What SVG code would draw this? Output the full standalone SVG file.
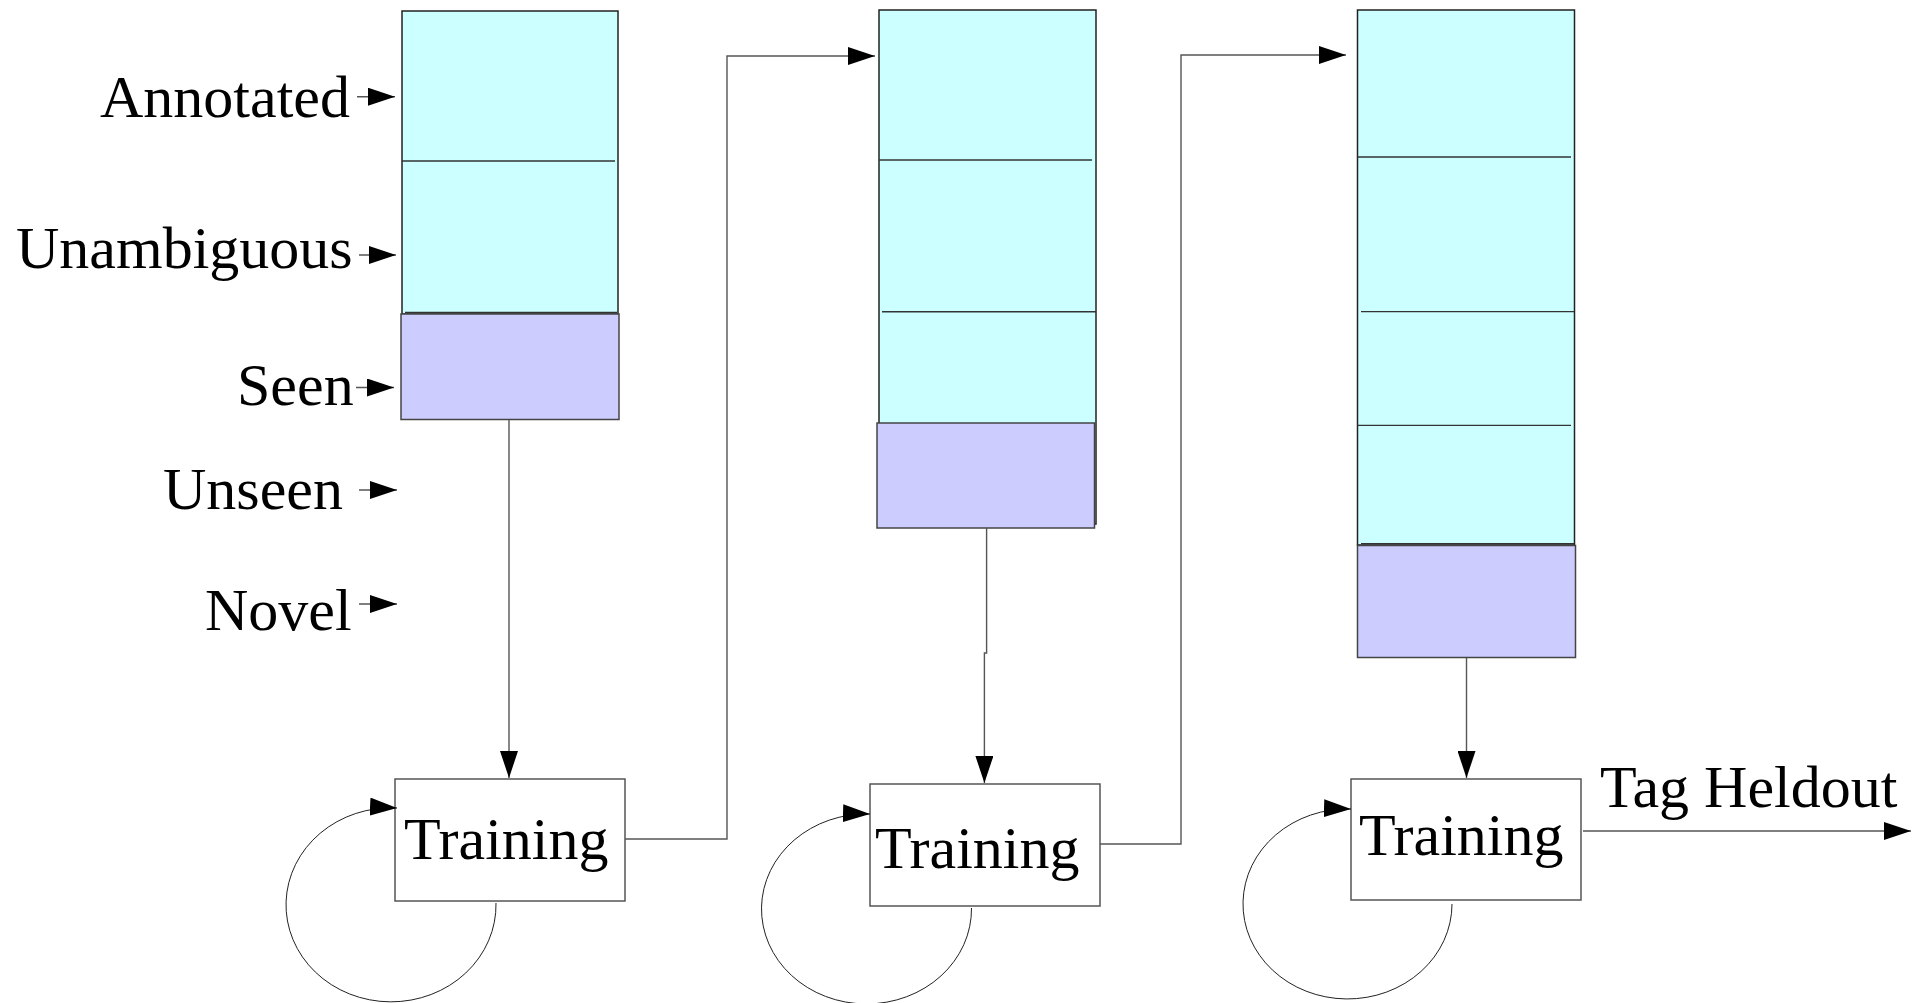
<svg xmlns="http://www.w3.org/2000/svg" width="1913" height="1003" viewBox="0 0 1913 1003">
<style>
.lbl{font-family:"Liberation Serif","Times New Roman",serif;font-size:60px;fill:#000}
.cyan{fill:#ccffff;stroke:#222;stroke-width:1.5}
.purple{fill:#ccccff;stroke:#444;stroke-width:1.5}
.div{stroke:#333;stroke-width:1.4;fill:none}
.box{fill:#fff;stroke:#555;stroke-width:1.5}
.con{fill:none;stroke:#555;stroke-width:1.4}
.loop{fill:none;stroke:#222;stroke-width:1}
</style>
<defs>
<marker id="ah" markerUnits="userSpaceOnUse" markerWidth="28" markerHeight="18" refX="27" refY="9" orient="auto">
<path d="M0,0 L27,9 L0,18 Z" fill="#000"/>
</marker>
</defs>
<rect width="1913" height="1003" fill="#fff"/>

<g id="legend">
<text class="lbl" x="100" y="117">Annotated</text>
<text class="lbl" x="16" y="268">Unambiguous</text>
<text class="lbl" x="237" y="405">Seen</text>
<text class="lbl" x="163" y="509">Unseen</text>
<text class="lbl" x="205" y="630">Novel</text>
</g>

<g id="stack1">
<rect class="cyan" x="402" y="11" width="216" height="303"/>
<line class="div" x1="402" y1="161" x2="615" y2="161"/>
<line class="div" x1="405" y1="312.5" x2="617" y2="312.5"/>
<rect class="purple" x="401" y="314" width="218" height="105.5"/>
</g>

<g id="stack2">
<rect class="cyan" x="879" y="10" width="217" height="514"/>
<line class="div" x1="879" y1="160" x2="1092" y2="160"/>
<line class="div" x1="882" y1="311.8" x2="1096" y2="311.8"/>
<line class="div" x1="880" y1="425" x2="1093" y2="425"/>
<rect class="purple" x="877" y="423" width="217.5" height="105"/>
</g>

<g id="stack3">
<rect class="cyan" x="1357.5" y="10" width="217" height="535"/>
<line class="div" x1="1357.5" y1="157" x2="1571" y2="157"/>
<line class="div" x1="1361" y1="311.6" x2="1574" y2="311.6"/>
<line class="div" x1="1357.5" y1="425.4" x2="1571" y2="425.4"/>
<line class="div" x1="1361" y1="543.8" x2="1574" y2="543.8"/>
<rect class="purple" x="1357.5" y="545.5" width="218" height="112"/>
</g>

<g id="training1">
<rect class="box" x="395" y="779" width="230" height="122"/>
<text class="lbl" x="404" y="859">Training</text>
</g>
<g id="training2">
<rect class="box" x="870" y="784" width="230" height="122"/>
<text class="lbl" x="875" y="868">Training</text>
</g>
<g id="training3">
<rect class="box" x="1351" y="779" width="230" height="121"/>
<text class="lbl" x="1359" y="855">Training</text>
</g>
<g id="tagheldout">
<text class="lbl" x="1600" y="807">Tag Heldout</text>
</g>

<g id="connectors">
<line class="con" x1="357" y1="96.7" x2="395" y2="96.7" marker-end="url(#ah)"/>
<line class="con" x1="359" y1="255" x2="396" y2="255" marker-end="url(#ah)"/>
<line class="con" x1="356" y1="387.5" x2="394" y2="387.5" marker-end="url(#ah)"/>
<line class="con" x1="359" y1="490" x2="397" y2="490" marker-end="url(#ah)"/>
<line class="con" x1="359" y1="604" x2="397" y2="604" marker-end="url(#ah)"/>

<path class="con" d="M509,420 V778" marker-end="url(#ah)"/>
<path class="con" d="M625,839 H727 V56 H875" marker-end="url(#ah)"/>
<path class="con" d="M986.6,528 V653 H984.4 V783" marker-end="url(#ah)"/>
<path class="con" d="M1100,844 H1181 V55 H1346" marker-end="url(#ah)"/>
<path class="con" d="M1466.5,658 V778" marker-end="url(#ah)"/>
<path class="con" d="M1583,831 H1911" marker-end="url(#ah)"/>

<path class="loop" d="M496,903 A105,97 0 1 1 397,808" marker-end="url(#ah)"/>
<path class="loop" d="M971.5,908 A105,95 0 1 1 870,814" marker-end="url(#ah)"/>
<path class="loop" d="M1452,904 A104.5,95 0 1 1 1351,809" marker-end="url(#ah)"/>
</g>
</svg>
